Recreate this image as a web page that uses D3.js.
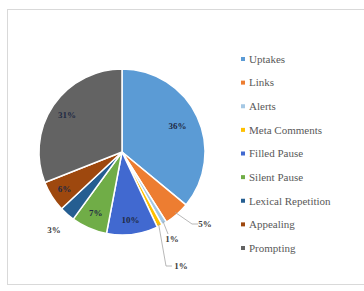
<!DOCTYPE html>
<html><head><meta charset="utf-8">
<script src="https://cdn.jsdelivr.net/npm/d3@7"></script>
<style>html,body{margin:0;padding:0;background:#fff;}svg{display:block;}</style>
</head><body>
<script>
const categories = ["Uptakes","Links","Alerts","Meta Comments","Filled Pause","Silent Pause","Lexical Repetition","Appealing","Prompting"];
const values = [36,5,1,1,10,7,3,6,31];
const labels = ["36%","5%","1%","1%","10%","7%","3%","6%","31%"];
const colors = ["#5B9BD5","#ED7D31","#A5C8E4","#FFC000","#4169D0","#70AD47","#255E91","#9E480E","#636363"];

const W=364,H=291;
const svg=d3.select("body").append("svg").attr("width",W).attr("height",H);
svg.append("rect").attr("x",7.5).attr("y",9.5).attr("width",370).attr("height",275)
  .attr("fill","#fff").attr("stroke","#d9d9d9").attr("stroke-width",1);

const cx=122, cy=152, R=83;
const g=svg.append("g").attr("transform",`translate(${cx},${cy})`);
const pie=d3.pie().sort(null).value(d=>d)(values);
const arc=d3.arc().innerRadius(0).outerRadius(R);
g.selectAll("path").data(pie).join("path")
  .attr("d",arc).attr("fill",(d,i)=>colors[i])
  .attr("stroke","#fff").attr("stroke-width",1.5).attr("stroke-linejoin","round");

// label layout: inside (r factor) or outside with leader
const layout = [
  {type:"in", k:0.74},
  {type:"out", k:1.12, lx:205, ly:224, hx:198},
  {type:"out", k:1.0, lx:172, ly:239},
  {type:"out", k:1.0, lx:181, ly:266, hx:172},
  {type:"in", k:0.82},
  {type:"in", k:0.8},
  {type:"free", lx:54, ly:230},
  {type:"in", k:0.82},
  {type:"in", k:0.8},
];
const polar=(a,r)=>[Math.sin(a)*r, -Math.cos(a)*r];
pie.forEach((d,i)=>{
  const L=layout[i], mid=(d.startAngle+d.endAngle)/2;
  let x,y;
  if(L.type==="in"){ [x,y]=polar(mid,R*L.k); x+=cx; y+=cy; }
  else {
    x=L.lx; y=L.ly;
    if(L.type==="out"){
      const [ex,ey]=polar(mid,R*0.97);
      const p=[[ex+cx,ey+cy]];
      if(L.hx){ p.push([L.hx-6,y]); p.push([L.hx,y]); }
      else p.push([x-4,y-5]);
      svg.append("path").attr("d",d3.line()(p)).attr("fill","none")
        .attr("stroke","#a6a6a6").attr("stroke-width",0.8);
    }
  }
  svg.append("text").attr("x",x).attr("y",y).attr("dy","0.35em")
    .attr("text-anchor","middle").attr("font-family","Liberation Serif, serif")
    .attr("font-weight","bold").attr("font-size",9)
    .attr("fill", L.type==="in" ? "#1f2a44" : "#404040").text(labels[i]);
});

// legend
const ly=d3.scalePoint().domain(categories).range([59,248]);
const leg=svg.append("g");
categories.forEach((c,i)=>{
  leg.append("rect").attr("x",241).attr("y",ly(c)-2).attr("width",4).attr("height",4).attr("fill",colors[i]);
  leg.append("text").attr("x",249).attr("y",ly(c)).attr("dy","0.35em")
    .attr("font-family","Liberation Serif, serif").attr("font-size",11)
    .attr("fill","#595959").text(c);
});
</script>
</body></html>
